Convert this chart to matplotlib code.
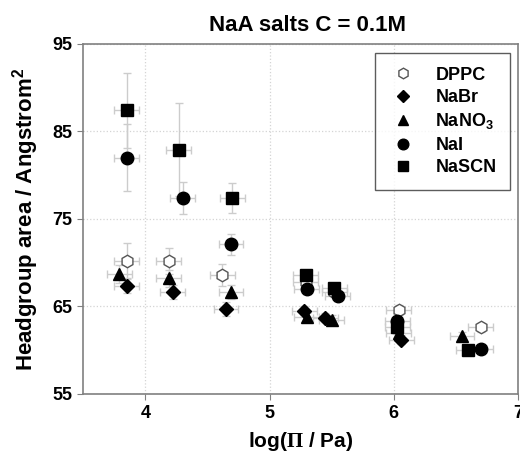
import matplotlib
matplotlib.use("Agg")
import matplotlib.pyplot as plt

plt.rcParams['font.family'] = ['Liberation Sans', 'DejaVu Sans']
plt.rcParams['font.weight'] = 'bold'
plt.rcParams['mathtext.fontset'] = 'custom'
plt.rcParams['mathtext.rm'] = 'Liberation Sans:bold'
plt.rcParams['mathtext.bf'] = 'Liberation Sans:bold'
plt.rcParams['mathtext.sf'] = 'Liberation Serif'

# log(Pi / Pa) and headgroup area
dppc_x = [3.85, 4.19, 4.62, 5.29, 5.52, 6.04, 6.70]
dppc_y = [70.2, 70.2, 68.6, 67.8, 66.6, 64.6, 62.6]
dppc_err = [2.0, 1.5, 1.3, 0.5, 0.5, 0.6, 0.5]

nabr_x = [3.85, 4.22, 4.65, 5.28, 5.45, 6.06]
nabr_y = [67.3, 66.7, 64.7, 64.5, 63.7, 61.2]
nabr_err = [0.8, 0.8, 0.8, 0.5, 0.5, 0.5]

nano3_x = [3.79, 4.19, 4.69, 5.30, 5.50, 6.04, 6.55]
nano3_y = [68.7, 68.2, 66.6, 63.8, 63.5, 62.0, 61.6]
nano3_err = [1.0, 1.0, 0.8, 0.5, 0.5, 0.5, 0.5]

nai_x = [3.85, 4.30, 4.69, 5.30, 5.55, 6.03, 6.70]
nai_y = [82.0, 77.4, 72.1, 67.0, 66.2, 63.3, 60.1]
nai_err = [3.8, 1.8, 1.2, 0.6, 0.6, 0.8, 0.5]

nascn_x = [3.85, 4.27, 4.70, 5.29, 5.52, 6.03, 6.60]
nascn_y = [87.4, 82.9, 77.4, 68.6, 67.1, 62.6, 60.0]
nascn_err = [4.3, 5.3, 1.7, 0.6, 0.6, 0.8, 0.5]

x_err = 0.1

series = [
    ('DPPC', dppc_x, dppc_y, dppc_err, 'h', 9, 'white'),
    ('NaBr', nabr_x, nabr_y, nabr_err, 'D', 7, 'black'),
    ('NaNO$_3$', nano3_x, nano3_y, nano3_err, '^', 8.5, 'black'),
    ('NaI', nai_x, nai_y, nai_err, 'o', 9, 'black'),
    ('NaSCN', nascn_x, nascn_y, nascn_err, 's', 8, 'black'),
]

fig = plt.figure(figsize=(5.2, 4.58), dpi=100)
ax = fig.add_axes([0.160, 0.140, 0.836, 0.764])

# error bars first so every marker sits above them
for name, xs, ys, es, m, ms, fc in series:
    ax.errorbar(xs, ys, yerr=es, xerr=x_err, fmt='none', ecolor='#cccccc',
                elinewidth=1, capsize=3, capthick=1, zorder=2)

for name, xs, ys, es, m, ms, fc in series:
    ec = '#555555' if fc == 'white' else 'black'
    ax.plot(xs, ys, ls='none', marker=m, ms=ms, mfc=fc, mec=ec,
            mew=1, label=name, zorder=3)

ax.set_xlim(3.5, 7)
ax.set_ylim(55, 95)
ax.set_xticks([4, 5, 6, 7])
ax.set_yticks([55, 65, 75, 85, 95])
ax.grid(True, ls=':', color='#d4d4d4', lw=0.9)
ax.set_axisbelow(True)
for s in ax.spines.values():
    s.set_color('#808080')
    s.set_linewidth(1.2)
ax.tick_params(direction='out', length=4, color='#808080', labelsize=13,
               top=False, right=False, pad=4)
for lab in ax.get_xticklabels() + ax.get_yticklabels():
    lab.set_fontweight('bold')

ax.set_xlabel(r'log($\mathsf{\Pi}$ / Pa)', fontsize=15, fontweight='bold', labelpad=6)
ax.set_ylabel('Headgroup area / Angstrom$^2$', fontsize=16, fontweight='bold', labelpad=8)
ax.set_title('NaA salts C = 0.1M', fontsize=16, fontweight='bold', x=0.516, pad=9)

leg = ax.legend(loc='upper left', bbox_to_anchor=(0.671, 0.974), borderaxespad=0,
                fontsize=13, frameon=True, fancybox=False, edgecolor='#333333',
                labelspacing=0.3, handletextpad=1.0, borderpad=0.75,
                handlelength=1.6, markerscale=0.85)
leg.get_frame().set_linewidth(1)
for t in leg.get_texts():
    t.set_fontweight('bold')

fig.savefig('out.png', dpi=100)
